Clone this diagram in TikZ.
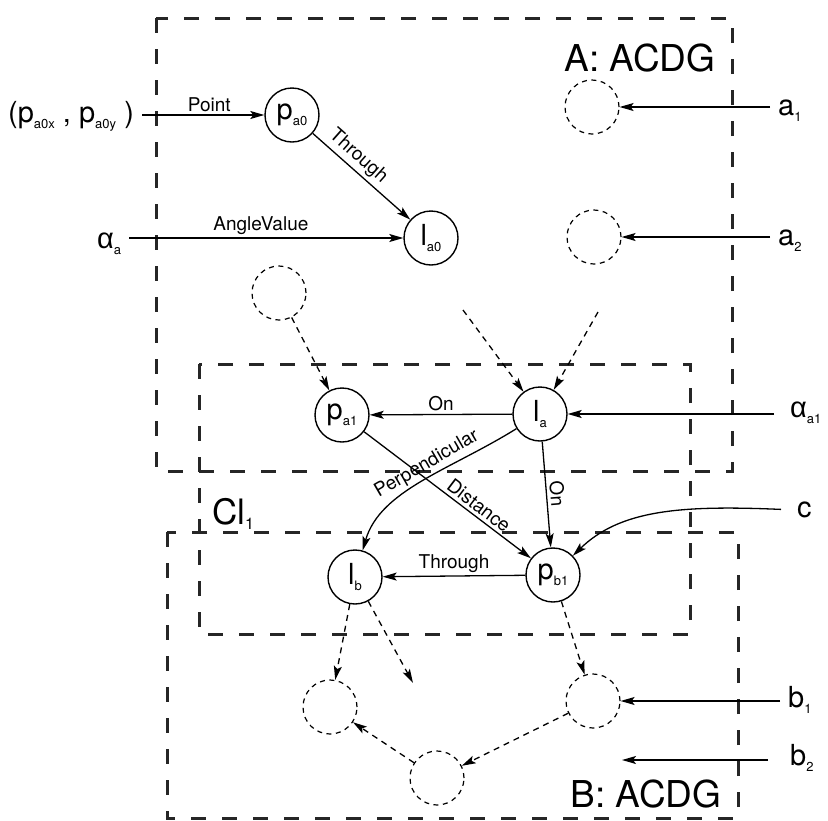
\documentclass[tikz,border=0pt]{standalone}
\usepackage{fontspec}
\setmainfont{TeX Gyre Heros}
\newfontfamily\grk{Liberation Sans}
\usetikzlibrary{arrows.meta}
\newcommand{\sbs}[1]{\raisebox{-6pt}{\fontsize{13}{13}\selectfont #1}}
\begin{document}
\begin{tikzpicture}[x=1pt,y=-1pt,
  nd/.style={circle,draw,line width=1.4pt,minimum size=54pt,inner sep=0pt,font=\fontsize{29}{29}\selectfont},
  dnd/.style={circle,draw,line width=1.2pt,dash pattern=on 5pt off 4.5pt,minimum size=54pt,inner sep=0pt},
  grp/.style={draw,line width=3pt,dash pattern=on 15pt off 16pt,color=black!85},
  arr/.style={line width=1.3pt,-{Stealth[length=14pt,width=8pt,inset=3pt]}},
  darr/.style={arr,dash pattern=on 6pt off 5pt},
  elbl/.style={font=\fontsize{19}{19}\selectfont,inner sep=3pt},
  big/.style={font=\fontsize{37}{37}\selectfont},
  side/.style={font=\fontsize{29}{29}\selectfont,inner sep=0pt,inner xsep=8pt,anchor=base west}
]
\useasboundingbox (0,0) rectangle (828,820);
\fill[white] (0,0) rectangle (828,820);

% group boxes
\draw[grp] (156,18) rectangle (732,471);
\draw[grp] (199,364) rectangle (690,634);
\draw[grp] (167,532) rectangle (738,818);

% group labels
\node[big] (lblA) at (640,58) {A: ACDG};
\node[big] (lblB) at (646,794) {B: ACDG};
\node[font=\fontsize{35}{35}\selectfont] (lblC) at (233,514) {Cl\raisebox{-5pt}{\fontsize{16}{16}\selectfont 1}};

% solid nodes
\node[nd] (pa0) at (292,115) {p\sbs{a0}};
\node[nd] (la0) at (431,238) {l\sbs{a0}};
\node[nd] (pa1) at (342,415) {p\sbs{a1}};
\node[nd] (la) at (540,414) {l\sbs{a}};
\node[nd] (lb) at (355,577) {l\sbs{b}};
\node[nd] (pb1) at (553,575) {p\sbs{b1}};

% dashed nodes
\node[dnd] (ca1) at (592,107) {};
\node[dnd] (ca2) at (594,237) {};
\node[dnd] (cin) at (279,293) {};
\node[dnd] (cl) at (330,707) {};
\node[dnd] (cr) at (593,701) {};
\node[dnd] (cbot) at (437,778) {};

% side labels
\node[side] (pxy) at (0,122) {(p\sbs{a0x} , p\sbs{a0y} )};
\node[side] (aa) at (89,248) {{\grk α}\sbs{a}};
\node[side] (a1) at (770,115) {a\sbs{1}};
\node[side] (a2) at (770,245) {a\sbs{2}};
\node[side,inner xsep=16pt] (aa1) at (774,417) {{\grk α}\sbs{a1}};
\node[side,inner xsep=16pt] (c) at (781,517) {c};
\node[side] (b1) at (780,707) {b\sbs{1}};
\node[side,inner xsep=22pt] (b2) at (768,765) {b\sbs{2}};

% free ends
\coordinate (s1) at (463,310);
\coordinate (s2) at (598,312);
\coordinate (e1) at (413,683);
\coordinate (b2e) at (622,760);

% connectors
\draw[arr] (pxy.east |- pa0) -- node[elbl,above,pos=0.55]{Point} (pa0);
\draw[arr] (aa.east |- la0) -- node[elbl,above,pos=0.48]{AngleValue} (la0);
\draw[arr] (pa0) -- node[elbl,above,sloped,pos=0.38]{Through} (la0);
\draw[arr] (a1.west |- ca1) -- (ca1);
\draw[arr] (a2.west |- ca2) -- (ca2);
\draw[darr] (cin) -- (pa1);
\draw[darr] (s1) -- (la);
\draw[darr] (s2) -- (la);
\draw[arr] (aa1.west |- la) -- (la);
\draw[arr] (la) -- node[elbl,above]{On} (pa1);
\draw[arr] (la) -- node[elbl,above,sloped]{On} (pb1);
\draw[arr] (la) .. controls (450,470) and (380,490) .. node[elbl,above,sloped,pos=0.43]{Perpendicular} (lb);
\draw[arr] (pa1) -- node[elbl,above,sloped,pos=0.65]{Distance} (pb1);
\draw[arr] (c.west) .. controls (680,505) and (620,510) .. (pb1);
\draw[arr] (pb1) -- node[elbl,above]{Through} (lb);
\draw[darr] (lb) -- (cl);
\draw[darr] (lb) -- (e1);
\draw[darr] (pb1) -- (cr);
\draw[arr] (b1.west |- cr) -- (cr);
\draw[arr] (b2.west |- b2e) -- (b2e);
\draw[darr] (cr) -- (cbot);
\draw[darr] (cbot) -- (cl);
\end{tikzpicture}
\end{document}
